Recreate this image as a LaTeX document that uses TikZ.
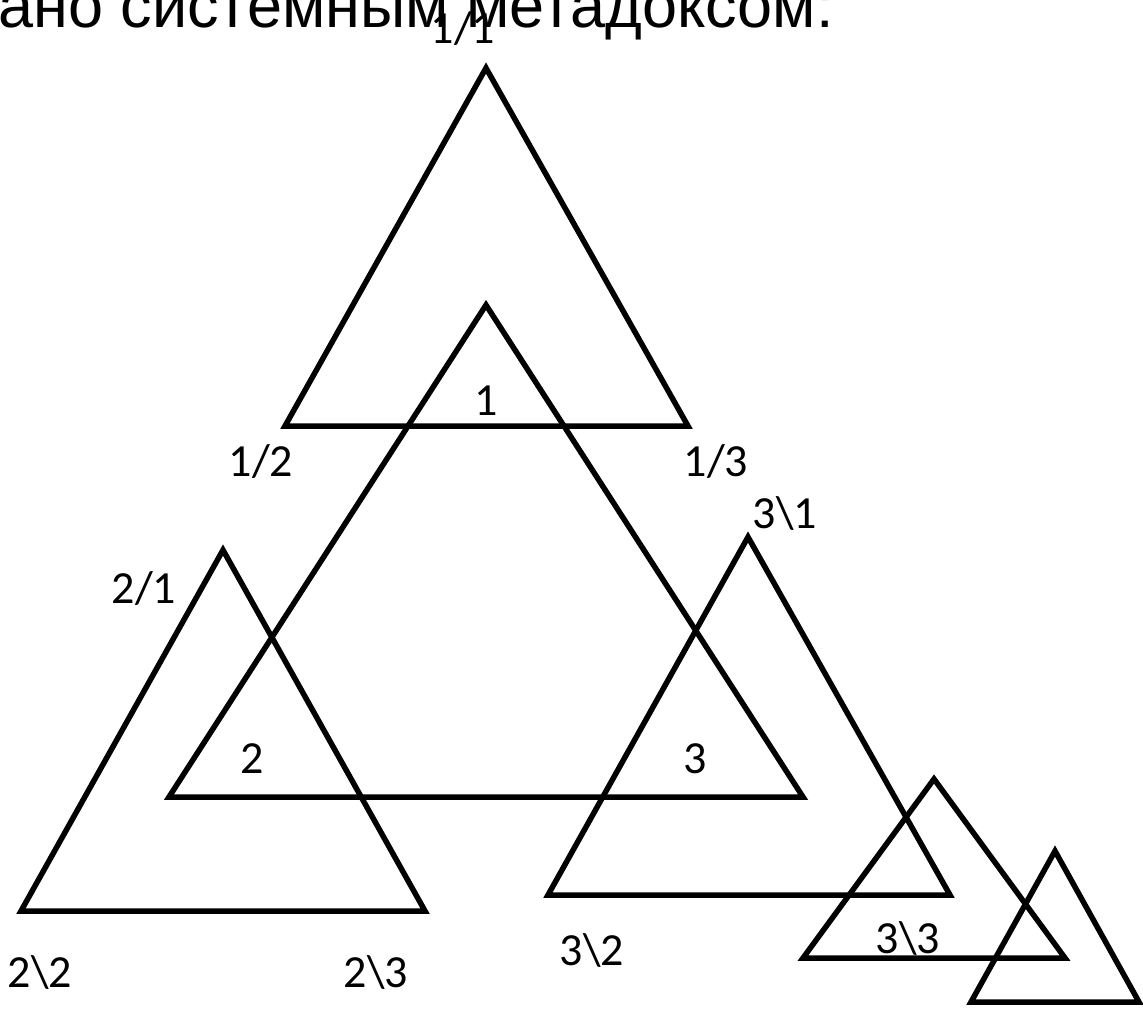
\documentclass[tikz,border=0pt]{standalone}
\usepackage{fontspec}
\setmainfont{Carlito}
\newfontfamily\headfont{Liberation Sans}
\usetikzlibrary{positioning}

\tikzset{
  tri/.style={draw,line width=5.5pt,line join=miter},
  lbl/.style={inner sep=0pt,anchor=base,font=\fontsize{46}{50}\selectfont},
  head/.style={inner sep=0pt,anchor=base east,font=\headfont\fontsize{63}{68}\selectfont}
}

\begin{document}
\begin{tikzpicture}[x=1pt,y=-1pt]
  \useasboundingbox (0,0) rectangle (1143,1010);
  \node[head] (title) at (834,27) {ано системным метадоксом:};
  % triangles
  \draw[tri] (486,68) coordinate (a11) -- (285,426) coordinate (a12) -- (688,426) coordinate (a13) -- cycle;
  \draw[tri] (486,305) coordinate (m1) -- (169,797) coordinate (m2) -- (803,797) coordinate (m3) -- cycle;
  \draw[tri] (223,550) coordinate (a21) -- (21,911) coordinate (a22) -- (425,911) coordinate (a23) -- cycle;
  \draw[tri] (748,537) coordinate (a31) -- (548,895) coordinate (a32) -- (950,895) coordinate (a33) -- cycle;
  \draw[tri] (934,779) coordinate (b1) -- (803,958) coordinate (b2) -- (1065,958) coordinate (b3) -- cycle;
  \draw[tri] (1055,851) coordinate (c1) -- (971,1002) coordinate (c2) -- (1139,1002) coordinate (c3) -- cycle;
  % labels
  \node[lbl] (l11) at (463,43) {1/1};
  \node[lbl] (l1) at (486,415) {1};
  \node[lbl] (l12) at (261,476) {1/2};
  \node[lbl] (l13) at (716,476) {1/3};
  \node[lbl] (l21) at (144,603) {2/1};
  \node[lbl] (l31) at (785,528) {3\textbackslash 1};
  \node[lbl] (l2) at (252,773) {2};
  \node[lbl] (l3) at (695,773) {3};
  \node[lbl] (l22) at (40,987) {2\textbackslash 2};
  \node[lbl] (l23) at (376,987) {2\textbackslash 3};
  \node[lbl] (l32) at (592,965) {3\textbackslash 2};
  \node[lbl] (l33) at (908,953) {3\textbackslash 3};
\end{tikzpicture}
\end{document}
